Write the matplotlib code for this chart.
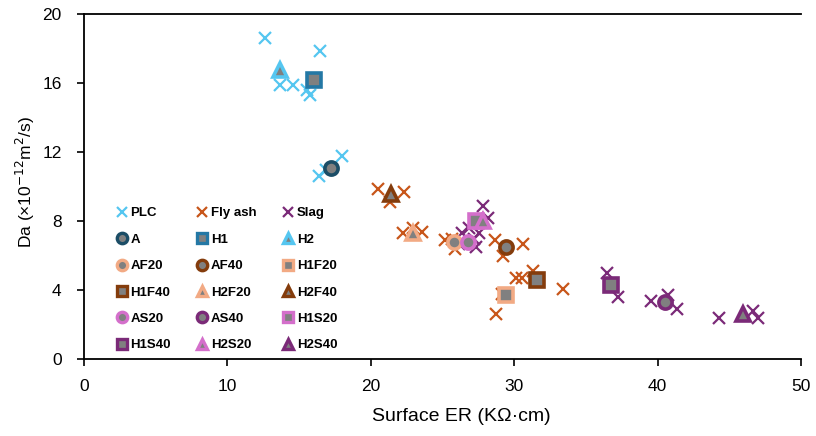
#!/usr/bin/env python3
"""Diffusion coefficient vs surface electrical resistivity scatter."""

import matplotlib
matplotlib.use("Agg")
import matplotlib.pyplot as plt
from matplotlib.lines import Line2D

plt.rcParams["font.family"] = ["Liberation Sans", "DejaVu Sans"]

# Cross series (individual mixes)
PLC_X = [12.6, 16.47, 13.7, 14.59, 15.58, 15.78, 17.96, 16.38, 16.87]
PLC_Y = [18.6, 17.9, 15.9, 15.9, 15.6, 15.3, 11.8, 10.6, 11.0]

FLY_X = [20.53, 22.32, 21.33, 22.22, 22.91, 23.6, 25.19, 25.88, 28.65, 30.63, 29.25,
         30.14, 30.53, 31.33, 33.4, 29.15, 28.75, 25.68]
FLY_Y = [9.9, 9.7, 9.1, 7.3, 7.6, 7.4, 6.9, 6.4, 6.9, 6.7, 6.0,
         4.7, 4.7, 5.1, 4.1, 3.8, 2.6, 7.0]

SLAG_X = [27.86, 28.16, 26.38, 27.17, 27.56, 27.37, 26.18, 26.87, 36.47, 37.27, 39.54,
          40.73, 41.32, 44.29, 46.67, 46.97]
SLAG_Y = [8.9, 8.2, 7.3, 7.0, 7.3, 6.5, 6.7, 7.6, 5.0, 3.6, 3.4,
          3.7, 2.9, 2.4, 2.8, 2.4]

# Mean mixes (filled gray markers with coloured edges)
MIX_NAMES = ["A", "H1", "H2", "AF20", "AF40", "H1F20", "H1F40", "H2F20", "H2F40",
             "AS20", "AS40", "H1S20", "H1S40", "H2S20", "H2S40"]
MIX_X = [17.22, 16.03, 13.7, 25.78, 29.44, 29.44, 31.62, 22.91, 21.43,
         26.77, 40.53, 27.37, 36.77, 27.86, 45.98]
MIX_Y = [11.1, 16.2, 16.8, 6.8, 6.5, 3.7, 4.6, 7.3, 9.6,
         6.8, 3.3, 8.0, 4.3, 8.0, 2.6]

C_PLC = "#55C6F0"
C_FLY = "#C8561A"
C_SLAG = "#7B2A78"

MIX_STYLE = {
    "A": ("o", "#1B4D66"),
    "H1": ("s", "#2478A5"),
    "H2": ("^", "#55C6F0"),
    "AF20": ("o", "#F2AA84"),
    "AF40": ("o", "#843C0C"),
    "H1F20": ("s", "#F2AA84"),
    "H1F40": ("s", "#843C0C"),
    "H2F20": ("^", "#F2AA84"),
    "H2F40": ("^", "#843C0C"),
    "AS20": ("o", "#D46FCB"),
    "AS40": ("o", "#7B2A78"),
    "H1S20": ("s", "#D46FCB"),
    "H1S40": ("s", "#7B2A78"),
    "H2S20": ("^", "#D46FCB"),
    "H2S40": ("^", "#7B2A78"),
}


def main() -> None:
    fig = plt.figure(figsize=(8.16, 4.36), dpi=100)
    ax = fig.add_axes([0.1029, 0.1759, 0.8787, 0.7913])

    handles = []
    for xs, ys, color, label in [(PLC_X, PLC_Y, C_PLC, "PLC"),
                                 (FLY_X, FLY_Y, C_FLY, "Fly ash"),
                                 (SLAG_X, SLAG_Y, C_SLAG, "Slag")]:
        ax.plot(xs, ys, linestyle="none", marker="x", markersize=9,
                markeredgewidth=1.6, color=color, zorder=2)
        handles.append(Line2D([], [], linestyle="none", marker="x", markersize=7,
                              markeredgewidth=1.6, color=color, label=label))

    for name, x, y in zip(MIX_NAMES, MIX_X, MIX_Y):
        marker, color = MIX_STYLE[name]
        size = 10 if marker == "^" else 9.5
        ax.plot([x], [y], linestyle="none", marker=marker, markersize=size,
                markerfacecolor="#808080", markeredgecolor=color,
                markeredgewidth=2.6, zorder=3)
        handles.append(Line2D([], [], linestyle="none", marker=marker, markersize=7.5,
                              markerfacecolor="#808080", markeredgecolor=color,
                              markeredgewidth=2.4, label=name))

    # legend is filled row by row in the reference
    order = [handles[i::3] for i in range(3)]
    ordered = [h for col in order for h in col]
    ax.legend(handles=ordered, ncol=3, loc="upper left", bbox_to_anchor=(0.036, 0.46),
              frameon=False, prop={"weight": "bold", "size": 9.5},
              handlelength=0.8, handletextpad=0.25, columnspacing=2.0,
              labelspacing=1.07, borderpad=0.0)

    ax.set_xlim(0, 50)
    ax.set_ylim(0, 20)
    ax.set_xticks(range(0, 51, 10))
    ax.set_yticks(range(0, 21, 4))
    ax.spines["right"].set_visible(False)
    for side in ("left", "bottom", "top"):
        ax.spines[side].set_linewidth(1.3)
    ax.tick_params(labelsize=12.5, width=1.2, length=5, direction="out")
    ax.tick_params(axis="y", pad=11)
    ax.tick_params(axis="x", pad=9)
    ax.set_xlabel("Surface ER (KΩ·cm)", fontsize=14)
    ax.set_ylabel("Da (×10$^{-12}$m$^{2}$/s)", fontsize=12.5)
    ax.xaxis.set_label_coords(0.526, -0.142)
    ax.yaxis.set_label_coords(-0.066, 0.515)

    fig.savefig("out.png", dpi=100)
    plt.close(fig)


if __name__ == "__main__":
    main()
